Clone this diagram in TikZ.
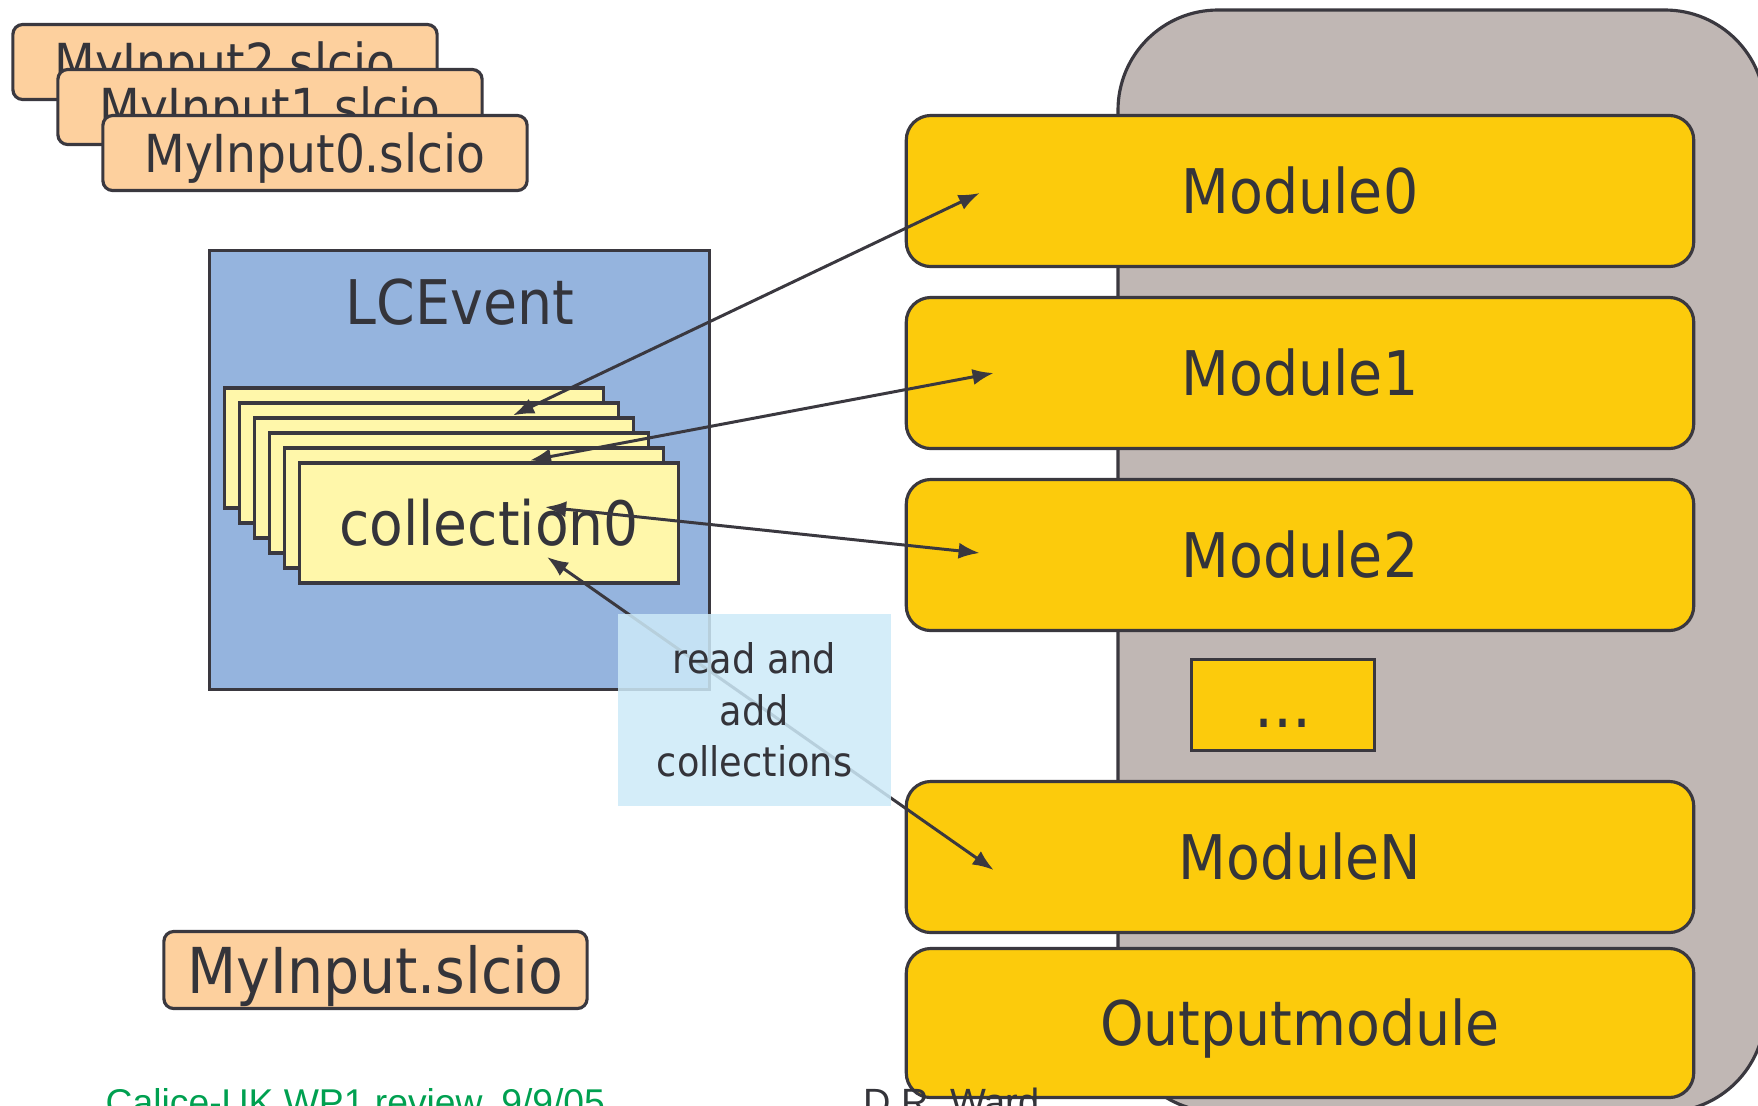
\documentclass[tikz,border=0pt]{standalone}
\usepackage{fontspec}
\setmainfont{DejaVu Sans Condensed}
\newfontfamily\footfont{Liberation Sans}
\usetikzlibrary{arrows.meta,calc}

\definecolor{framegray}{RGB}{192,183,180}
\definecolor{modyellow}{RGB}{252,203,12}
\definecolor{inorange}{RGB}{253,208,158}
\definecolor{evblue}{RGB}{149,180,222}
\definecolor{collyellow}{RGB}{255,247,170}
\definecolor{labelcyan}{RGB}{205,234,248}
\definecolor{linegray}{RGB}{58,56,63}
\definecolor{textgray}{RGB}{52,52,58}
\definecolor{footgreen}{RGB}{0,160,80}

\tikzset{
  outline/.style={draw=linegray, line width=0.9pt},
  modbox/.style={outline, fill=modyellow, rounded corners=7pt, minimum width=7.87cm, minimum height=1.51cm, inner sep=0pt, text=textgray, font=\fontsize{17.5}{21}\selectfont},
  inbox/.style={outline, fill=inorange, rounded corners=2.8pt, minimum width=4.24cm, minimum height=0.75cm, inner sep=0pt, text height=0.52cm, text depth=0.127cm, text=textgray, font=\fontsize{14.9}{17}\selectfont},
  collbox/.style={outline, fill=collyellow, minimum width=3.79cm, minimum height=1.2cm, inner sep=0pt, text=textgray, font=\fontsize{17.4}{20}\selectfont},
  dblarrow/.style={{Latex[length=6pt,width=4.6pt]}-{Latex[length=6pt,width=4.6pt]}, draw=linegray, line width=0.85pt},
  notebox/.style={fill=labelcyan, fill opacity=0.85, text opacity=1, minimum width=2.73cm, minimum height=1.92cm, inner sep=0pt, align=center, text=textgray, font=\fontsize{11.6}{14.7}\selectfont},
  footnote/.style={anchor=base west, inner sep=0pt, font=\footfont\fontsize{10.6}{12}\selectfont}
}

\begin{document}
\begin{tikzpicture}[x=0.01cm, y=-0.01cm]
    \useasboundingbox (0,0) rectangle (1758,1105);
    \clip (0,0) rectangle (1758,1105);

    % processor frame
    \draw[outline, fill=framegray, rounded corners=1cm] (1118,10) rectangle (1765,1112);

    % modules
    \node[modbox] (mod0) at (1300,191) {Module0};
    \node[modbox] (mod1) at (1300,373) {Module1};
    \node[modbox] (mod2) at (1300,555) {Module2};
    \node[outline, fill=modyellow, minimum width=1.83cm, minimum height=0.91cm, text height=0.44cm, text depth=0pt, text=textgray, font=\fontsize{19}{21}\selectfont] (moddots) at (1283,705) {...};
    \node[modbox] (modN) at (1300,857) {ModuleN};
    \node[modbox, minimum height=1.49cm, text height=0.59cm, text depth=0.148cm] (modout) at (1300,1023) {Outputmodule};

    % input files
    \node[inbox] (in2) at (225,62) {MyInput2.slcio};
    \node[inbox] (in1) at (270,107) {MyInput1.slcio};
    \node[inbox] (in0) at (315,153) {MyInput0.slcio};
    \node[inbox, minimum width=4.23cm, minimum height=0.74cm, text height=0.62cm, text depth=0.15cm, font=\fontsize{18}{21}\selectfont] (infile) at (375.5,970) {MyInput.slcio};

    % event with its collections
    \node[outline, fill=evblue, minimum width=4.99cm, minimum height=4.38cm] (event) at (459.5,470) {};
    \node[text=textgray, font=\fontsize{17.5}{21}\selectfont] (eventlabel) at (460,302) {LCEvent};
    \node[collbox] (col5) at (414,448) {};
    \node[collbox] (col4) at (429,463) {};
    \node[collbox] (col3) at (444,478) {};
    \node[collbox] (col2) at (459,493) {};
    \node[collbox] (col1) at (474,508) {};
    \node[collbox] (col0) at (489,523) {collection0};

    % access points
    \coordinate (c0end) at ($(col3.north)+(69,-1)$);
    \coordinate (c1end) at ($(col0.north)+(41,-1)$);
    \coordinate (c2end) at ($(col0.center)+(56,-16)$);
    \coordinate (cNend) at ($(col0.center)+(58,34)$);
    \coordinate (m0end) at ($(mod0.west)+(75,2)$);
    \coordinate (m1end) at ($(mod1.west)+(89,0)$);
    \coordinate (m2end) at ($(mod2.west)+(75,-2)$);
    \coordinate (mNend) at ($(modN.west)+(89,13)$);

    \draw[dblarrow] (c0end) -- (m0end);
    \draw[dblarrow] (c1end) -- (m1end);
    \draw[dblarrow] (c2end) -- (m2end);
    \draw[dblarrow] (cNend) -- (mNend);

    \node[notebox] (note) at (754.5,710) {read and\\add\\collections};

    % footer
    \node[footnote, text=footgreen] (footleft) at (105,1115) {Calice-UK WP1 review, 9/9/05};
    \node[footnote, text=textgray, font=\footfont\fontsize{10.8}{12}\selectfont] (footmid) at (863,1115) {D.R. Ward};
\end{tikzpicture}
\end{document}
